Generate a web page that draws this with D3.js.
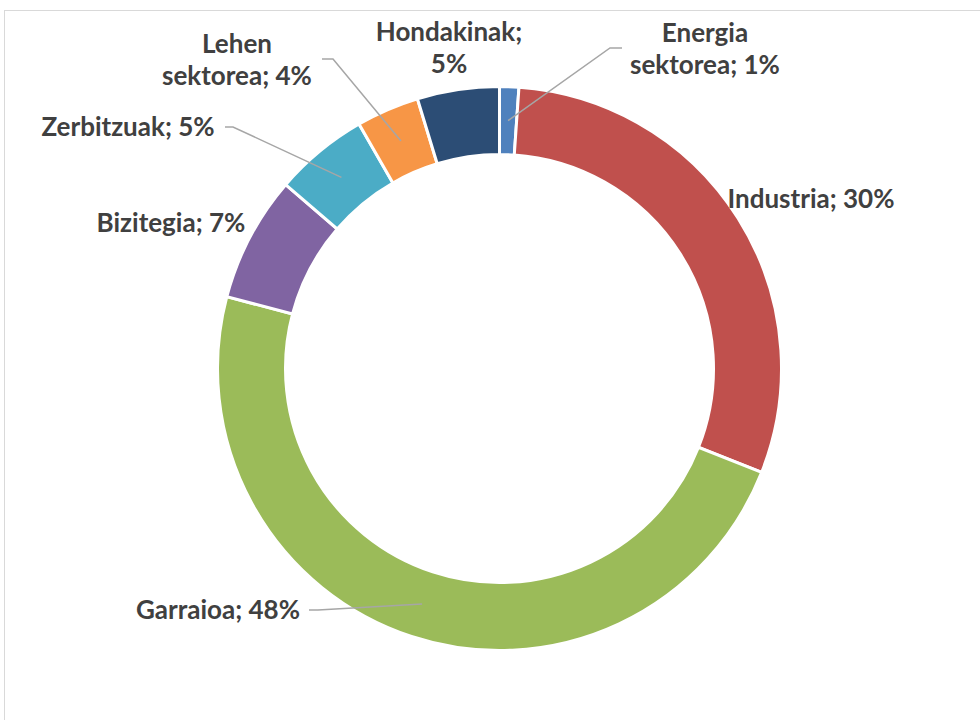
<!DOCTYPE html>
<html>
<head>
<meta charset="utf-8">
<script src="https://cdn.jsdelivr.net/npm/d3@7"></script>
<style>
  body { margin: 0; background: #fff; }
  svg { display: block; }
  .label { font-family: Lato, Carlito, "Liberation Sans", sans-serif; font-weight: bold; font-size: 26px; fill: #404040; }
</style>
</head>
<body>
<svg id="chart"></svg>
<script>
// sectors, clockwise from 12 o'clock
const sectors = [
  'Energia sektorea',
  'Industria',
  'Garraioa',
  'Bizitegia',
  'Zerbitzuak',
  'Lehen sektorea',
  'Hondakinak',
];
const shares = [1.1, 29.9, 48.1, 7.2, 5.4, 3.6, 4.7];
const colors = ['#4f81bd', '#c0504d', '#9bbb59', '#8064a2', '#4bacc6', '#f79646', '#2c4d75'];

// how each label is broken into lines
const labelLines = [
  ['Energia', 'sektorea; {p}'],
  ['Industria; {p}'],
  ['Garraioa; {p}'],
  ['Bizitegia; {p}'],
  ['Zerbitzuak; {p}'],
  ['Lehen', 'sektorea; {p}'],
  ['Hondakinak;', '{p}'],
];

// label placement (text centre x, first baseline y) and leader elbows (null = no leader)
const labelPos = [[705, 42], [811, 208], [218, 619], [171, 232], [128, 136], [237, 53], [449, 41]];
const leaderElbow = [
  [[610, 48], [622, 48]],
  null,
  [[318, 610], [309, 610]],
  null,
  [[233, 127], [225, 127]],
  [[333, 59], [322, 59]],
  null,
];

const width = 980, height = 720;
const cx = 499.5, cy = 368.5;
const outerR = 282, innerR = 214;
const lineGap = 32;

const svg = d3.select('#chart')
    .attr('width', width)
    .attr('height', height);

// chart frame (only top and left edge visible)
svg.append('rect')
    .attr('x', 4.5)
    .attr('y', 10.5)
    .attr('width', 1200)
    .attr('height', 1200)
    .attr('fill', 'none')
    .attr('stroke', '#d9d9d9')
    .attr('stroke-width', 1);

const data = sectors.map((name, i) => ({name, value: shares[i], i}));
const total = d3.sum(shares);

const pie = d3.pie()
    .sort(null)
    .value(d => d.value)
    .startAngle(0)
    .endAngle(2 * Math.PI);

const arc = d3.arc()
    .innerRadius(innerR)
    .outerRadius(outerR);

const arcs = pie(data);

const g = svg.append('g')
    .attr('transform', `translate(${cx},${cy})`);

g.selectAll('path')
    .data(arcs)
    .enter().append('path')
    .attr('d', arc)
    .attr('fill', d => colors[d.data.i])
    .attr('stroke', '#fff')
    .attr('stroke-width', 3)
    .attr('stroke-linejoin', 'miter');

// leader lines: from slice centroid to the elbow next to the label
svg.append('g')
    .selectAll('polyline')
    .data(arcs.filter(d => leaderElbow[d.data.i]))
    .enter().append('polyline')
    .attr('points', d => {
      const c = arc.centroid(d);
      const pts = [[c[0] + cx, c[1] + cy], ...leaderElbow[d.data.i]];
      return pts.map(p => p.join(',')).join(' ');
    })
    .attr('fill', 'none')
    .attr('stroke', '#a6a6a6')
    .attr('stroke-width', 1.5);

const fmt = v => Math.round(v / total * 100) + '%';

const labels = svg.append('g')
    .selectAll('text')
    .data(data)
    .enter().append('text')
    .attr('class', 'label')
    .attr('text-anchor', 'middle')
    .attr('x', d => labelPos[d.i][0])
    .attr('y', d => labelPos[d.i][1]);

labels.each(function (d) {
  const t = d3.select(this);
  labelLines[d.i].forEach((line, k) => {
    t.append('tspan')
        .attr('x', labelPos[d.i][0])
        .attr('dy', k === 0 ? 0 : lineGap)
        .text(line.replace('{p}', fmt(d.value)));
  });
});
</script>
</body>
</html>
